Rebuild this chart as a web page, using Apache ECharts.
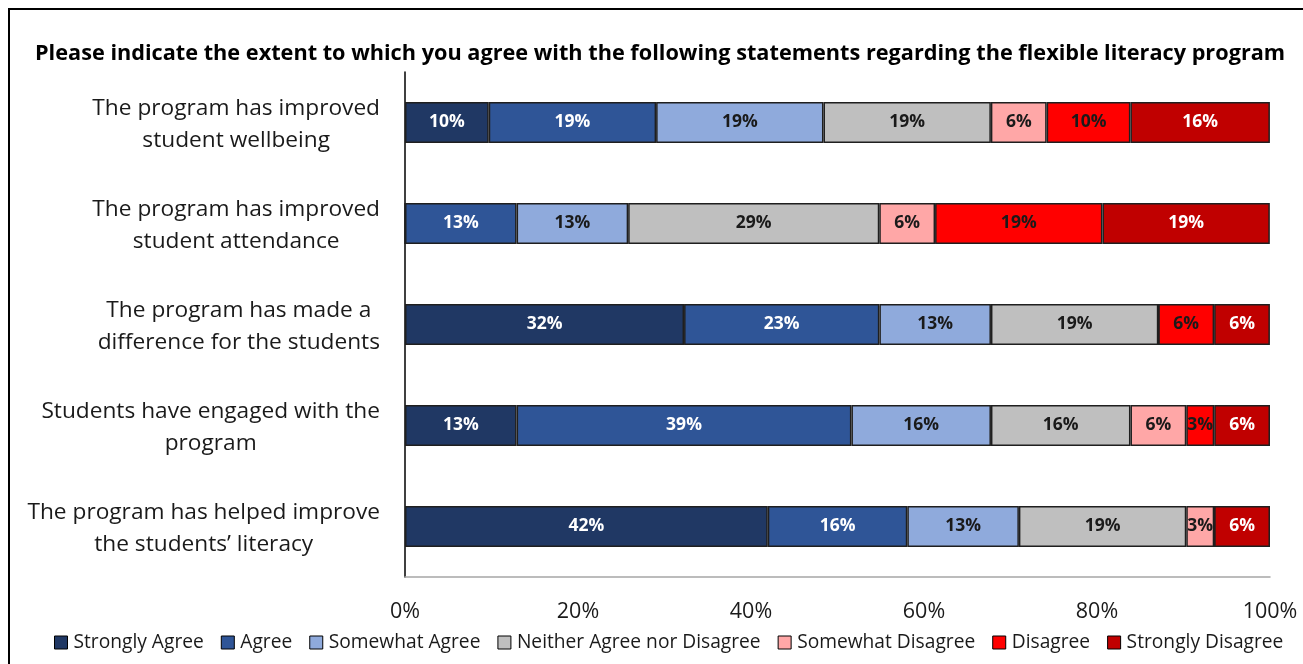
<!DOCTYPE html>
<html>
<head>
<meta charset="utf-8">
<script src="https://cdn.jsdelivr.net/npm/echarts@6/dist/echarts.min.js"></script>
<style>
html,body{margin:0;padding:0;background:#fff;}
#chart{width:1303px;height:664px;}
</style>
</head>
<body>
<div id="chart"></div>
<script>
const titleText = 'Please indicate the extent to which you agree with the following statements regarding the flexible literacy program';
const categories = [
  'The program has improved\nstudent wellbeing',
  'The program has improved\nstudent attendance',
  'The program has made a\ndifference for the students',
  'Students have engaged with the\nprogram',
  'The program has helped improve\nthe students\u2019 literacy'
];
const seriesNames = ['Strongly Agree','Agree','Somewhat Agree','Neither Agree nor Disagree','Somewhat Disagree','Disagree','Strongly Disagree'];
const stronglyAgree    = [9.68, 0,     32.26, 12.90, 41.94];
const agree            = [19.35, 12.90, 22.58, 38.71, 16.13];
const somewhatAgree    = [19.35, 12.90, 12.90, 16.13, 12.90];
const neither          = [19.35, 29.03, 19.35, 16.13, 19.35];
const somewhatDisagree = [6.45, 6.45,  0,     6.45,  3.23];
const disagree         = [9.68, 19.35, 6.45,  3.23,  0];
const stronglyDisagree = [16.13, 19.35, 6.45, 6.45,  6.45];
const xTicks = [0, 20, 40, 60, 80, 100];

const seriesData = [stronglyAgree, agree, somewhatAgree, neither, somewhatDisagree, disagree, stronglyDisagree];
const colors = ['#203864','#2F5597','#8FAADC','#BFBFBF','#FFA7A7','#FF0000','#C00000'];
const labelColors = ['#ffffff','#ffffff','#1a1a1a','#1a1a1a','#1a1a1a','#1a1a1a','#ffffff'];
const FONT = '"Open Sans", sans-serif';

const chart = echarts.init(document.getElementById('chart'), null, {renderer:'canvas'});
chart.setOption({
  animation: false,
  textStyle: {fontFamily: FONT},
  title: {
    text: titleText,
    left: 30,
    top: 38,
    textStyle: {fontFamily: FONT, fontWeight: 'bold', fontSize: 21.7, color: '#000'}
  },
  graphic: [{
    type: 'rect',
    shape: {x: 9, y: 9, width: 1400, height: 800},
    style: {fill: 'none', stroke: '#000', lineWidth: 2},
    silent: true
  }],
  legend: {
    bottom: 12,
    left: 54,
    width: 1400,
    padding: 0,
    itemWidth: 13,
    itemHeight: 13,
    itemGap: 17,
    icon: 'rect',
    itemStyle: {borderColor: '#000', borderWidth: 1},
    textStyle: {fontFamily: FONT, fontSize: 19.2, color: '#1a1a1a', padding: [0,0,0,1]},
    data: seriesNames
  },
  grid: {left: 405, right: 33, top: 72, bottom: 87, containLabel: false},
  xAxis: {
    type: 'value',
    min: xTicks[0], max: xTicks[xTicks.length-1], interval: 20,
    axisLine: {show: true, lineStyle: {color: '#a6a6a6', width: 1.5}},
    axisTick: {show: false},
    splitLine: {show: false},
    axisLabel: {formatter: v => v + '%', fontFamily: FONT, fontSize: 21.5, color: '#1a1a1a', margin: 24}
  },
  yAxis: {
    type: 'category',
    inverse: true,
    data: categories,
    axisLine: {show: true, lineStyle: {color: '#000', width: 1.5}},
    axisTick: {show: false},
    axisLabel: {
      margin: 25,
      align: 'right',
      formatter: v => v.split('\n').map(s => '{c|' + s + '}').join('\n'),
      rich: {c: {align: 'center', fontFamily: FONT, fontSize: 22.7, color: '#1a1a1a', lineHeight: 32, padding: [4,0,0,0]}}
    }
  },
  series: seriesData.map((d, i) => ({
    name: seriesNames[i],
    type: 'bar',
    stack: 'total',
    barWidth: 41,
    data: d,
    itemStyle: {color: colors[i], borderColor: '#1f1f1f', borderWidth: 1.5},
    label: {
      show: true,
      position: 'inside',
      formatter: p => p.value > 0 ? Math.round(p.value) + '%' : '',
      color: labelColors[i],
      fontFamily: FONT,
      fontWeight: 'bold',
      fontSize: 17.5
    }
  }))
});
</script>
</body>
</html>
